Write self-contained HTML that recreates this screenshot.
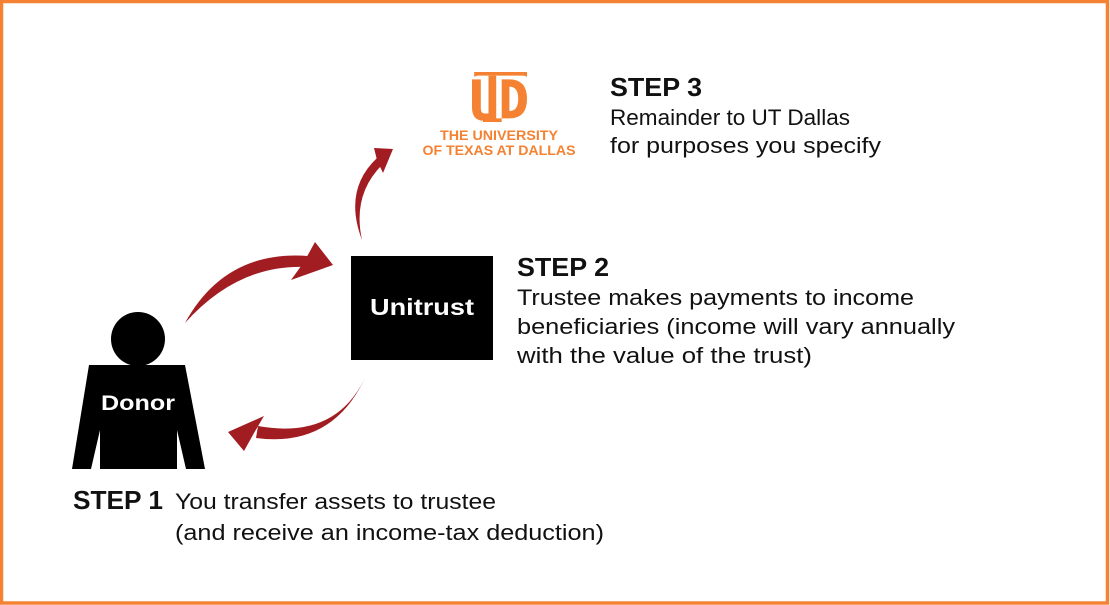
<!DOCTYPE html>
<html><head><meta charset="utf-8"><style>
html,body{margin:0;padding:0;background:#fff;}
svg{display:block;}
text{font-family:"Liberation Sans",Arial,sans-serif;}
</style></head><body>
<svg width="1110" height="605" viewBox="0 0 1110 605" xmlns="http://www.w3.org/2000/svg">
<rect x="1.5" y="1.5" width="1106" height="601.5" fill="#fff" stroke="#f58232" stroke-width="3.5"/>

<!-- UTD logo -->
<g fill="#f58232" transform="translate(472,72) scale(1.1,1.22) translate(-473,-70)">
  <path d="M475 70 h48 v4 q-2 -1 -4 -1 h-40 q-2 0 -4 1 z"/>
  <path d="M473 76 h8 v24 q0 4 4 4 h3 v6 h-4 q-11 0 -11 -11 z"/>
  <rect x="488" y="73" width="7" height="36"/>
  <rect x="483" y="108" width="17" height="3"/>
  <path d="M500 76 h7 q16 0 16 16 q0 16 -16 16 h-7 z M507 82 v20 q8 0 8 -10 q0 -10 -8 -10 z" fill-rule="evenodd"/>
</g>
<text x="499" y="140" text-anchor="middle" font-size="13.5" font-weight="bold" fill="#f58232" textLength="118" lengthAdjust="spacingAndGlyphs">THE UNIVERSITY</text>
<text x="499" y="155" text-anchor="middle" font-size="13.5" font-weight="bold" fill="#f58232" textLength="153" lengthAdjust="spacingAndGlyphs">OF TEXAS AT DALLAS</text>

<!-- Step 3 -->
<text x="610" y="96" font-size="26" font-weight="bold" fill="#111" textLength="92" lengthAdjust="spacingAndGlyphs">STEP 3</text>
<text x="610" y="125" font-size="22" fill="#111" textLength="240" lengthAdjust="spacingAndGlyphs">Remainder to UT Dallas</text>
<text x="610" y="153" font-size="22" fill="#111" textLength="271" lengthAdjust="spacingAndGlyphs">for purposes you specify</text>

<!-- Unitrust box -->
<rect x="351" y="256" width="142" height="104" fill="#000"/>
<text x="422" y="315" text-anchor="middle" font-size="23" font-weight="bold" fill="#fff" textLength="104" lengthAdjust="spacingAndGlyphs">Unitrust</text>

<!-- Step 2 -->
<text x="517" y="276" font-size="26" font-weight="bold" fill="#111" textLength="92" lengthAdjust="spacingAndGlyphs">STEP 2</text>
<text x="517" y="305" font-size="22" fill="#111" textLength="397" lengthAdjust="spacingAndGlyphs">Trustee makes payments to income</text>
<text x="517" y="334" font-size="22" fill="#111" textLength="438" lengthAdjust="spacingAndGlyphs">beneficiaries (income will vary annually</text>
<text x="517" y="363" font-size="22" fill="#111" textLength="295" lengthAdjust="spacingAndGlyphs">with the value of the trust)</text>

<!-- Donor -->
<circle cx="138" cy="339" r="27" fill="#000"/>
<polygon points="89,365 185,365 205,469 186,469 177,430 177,469 100,469 100,430 91,469 72,469" fill="#000"/>
<text x="138" y="410" text-anchor="middle" font-size="21" font-weight="bold" fill="#fff" textLength="74" lengthAdjust="spacingAndGlyphs">Donor</text>

<!-- Step 1 -->
<text x="73" y="509" font-size="26" font-weight="bold" fill="#111" textLength="90" lengthAdjust="spacingAndGlyphs">STEP 1</text>
<text x="175" y="509" font-size="22" fill="#111" textLength="321" lengthAdjust="spacingAndGlyphs">You transfer assets to trustee</text>
<text x="175" y="540" font-size="22" fill="#111" textLength="429" lengthAdjust="spacingAndGlyphs">(and receive an income-tax deduction)</text>

<!-- Arrows -->
<g fill="#a11d22">
  <path d="M185 323 Q225 250 308 256 L306 267 Q238 264 185 323 Z"/>
  <polygon points="333,265 315,242 304,262 291,280"/>
  <path d="M365 378 Q335 440 258 426 L256 438 Q332 448 365 378 Z"/>
  <polygon points="228,432 264,416 254,433 244,451"/>
  <path d="M362 240 Q343 190 377 158 L383 164 Q352 194 362 240 Z"/>
  <polygon points="393,149 374,148 377,160 383,173"/>
</g>
</svg>
</body></html>
